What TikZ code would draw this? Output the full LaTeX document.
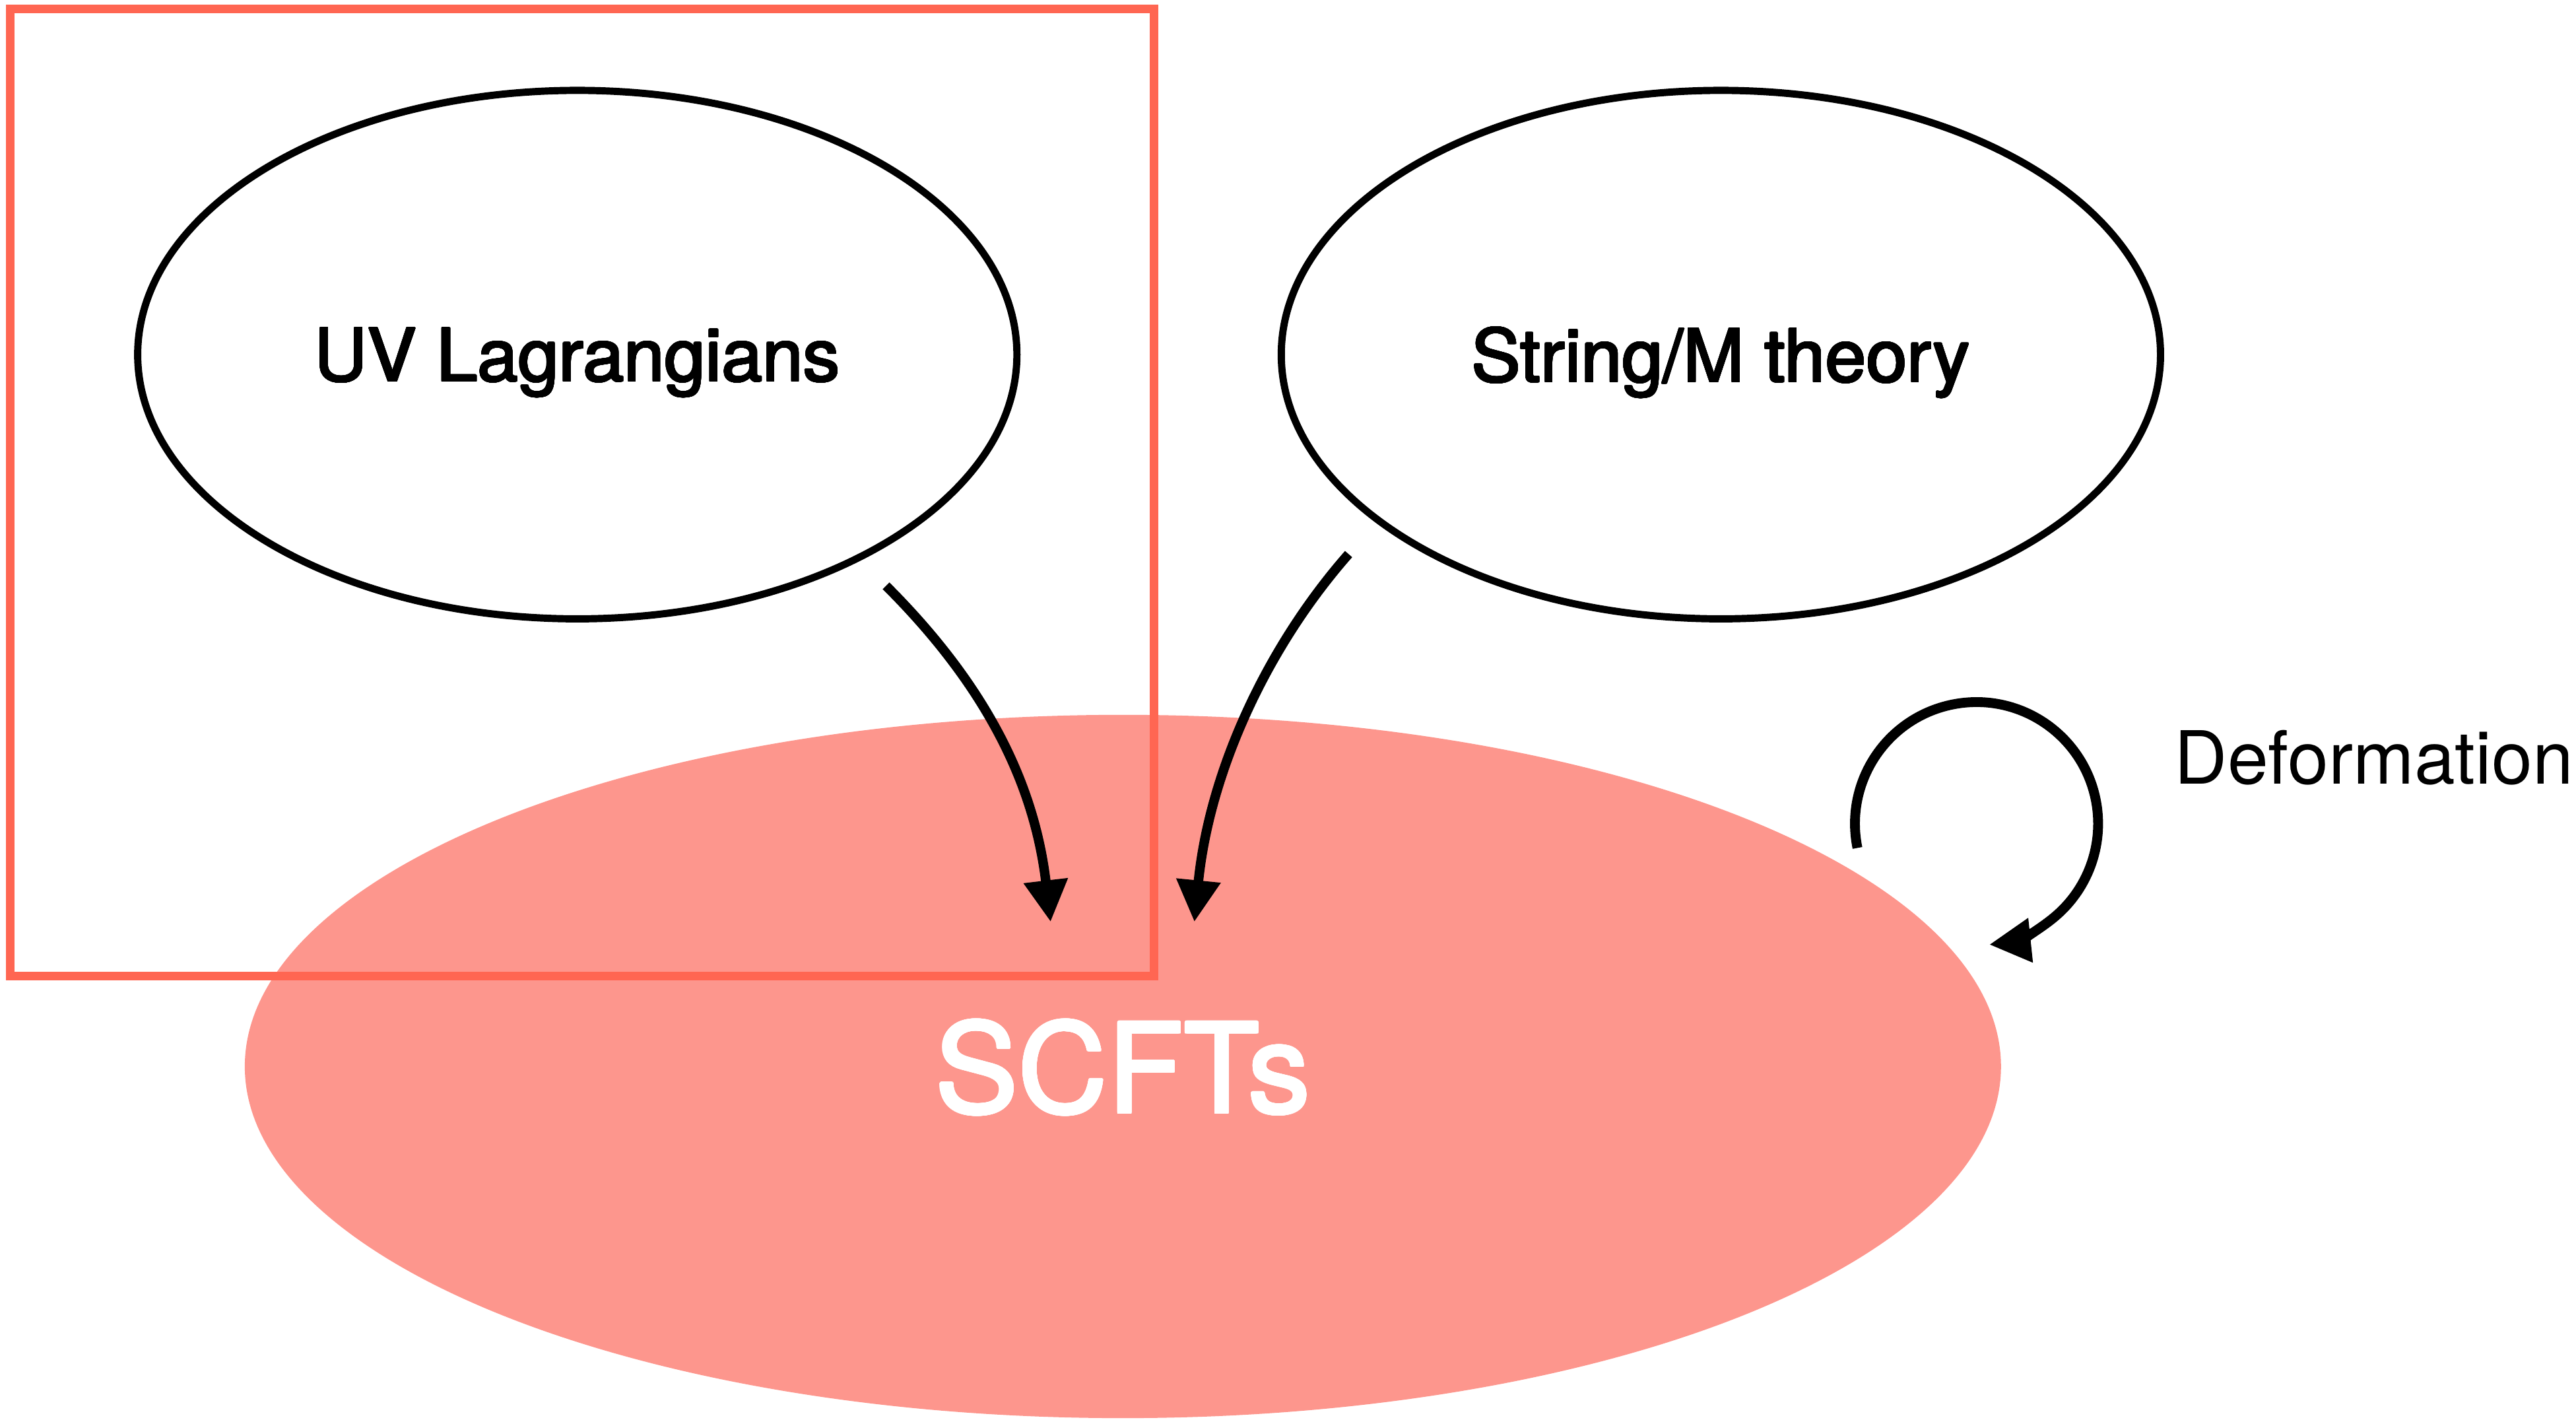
\documentclass[tikz,border=0pt]{standalone}
\usepackage{fontspec}
\setmainfont{TeX Gyre Heros}
\usepackage[copies]{contour}
\contournumber{24}
\usetikzlibrary{arrows.meta,shapes.geometric}
\definecolor{framered}{RGB}{255,102,82}
\definecolor{scftfill}{RGB}{253,150,141}
% slightly heavier lettering for the main labels
\newcommand{\heavyblack}[1]{\contourlength{0.15pt}\contour{black}{#1}}
\newcommand{\heavywhite}[1]{\contourlength{0.26pt}\contour{white}{#1}}
\begin{document}
\begin{tikzpicture}[x=0.1mm,y=-0.1mm,
  topic/.style={ellipse,draw=black,line width=1.25pt,inner sep=0pt,
    text depth=0pt,font=\fontsize{12.7}{15}\selectfont,
    minimum width=53.52mm,minimum height=32.16mm},
  conn/.style={line width=1.65pt,-{Triangle[length=7.2pt,width=7.3pt]}},
]
\useasboundingbox (0,0) rectangle (1568,865);

% the large filled region of SCFTs
\node[ellipse,fill=scftfill,inner sep=0pt,minimum width=106.9mm,minimum height=42.8mm,
  text=white,text depth=0pt,font=\fontsize{21.5}{24}\selectfont] (scft) at (683.5,649) {\heavywhite{SCFTs}};

% frame around the Lagrangian side
\node[draw=framered,line width=1.53pt,inner sep=0pt,anchor=north west,
  minimum width=69.62mm,minimum height=58.85mm] (lagframe) at (3.5,2.7) {};

% the two sources
\node[topic] (uv) at (351.4,215.8) {\heavyblack{UV Lagrangians}};
\node[topic] (sm) at (1047.5,215.8) {\heavyblack{String/M theory}};

% flows into the SCFTs
\coordinate (uvtip) at (639.5,561);
\coordinate (smtip) at (727,561);
\draw[conn,shorten <=6.2pt] (uv.-36.5) .. controls (596,413) and (629,472) .. (uvtip);
\draw[conn,shorten <=7.2pt] (sm.206) .. controls (770,395) and (736,471) .. (smtip);

% deformation loop
\coordinate (defstart) at (1130.6,516);
\draw[conn,line width=1.7pt] (defstart) arc[start angle=168.5,end angle=444,radius=74];
\node[anchor=base west,inner sep=0pt,font=\fontsize{12.7}{15}\selectfont] (deflabel) at (1323,477) {Deformation};
\end{tikzpicture}
\end{document}
